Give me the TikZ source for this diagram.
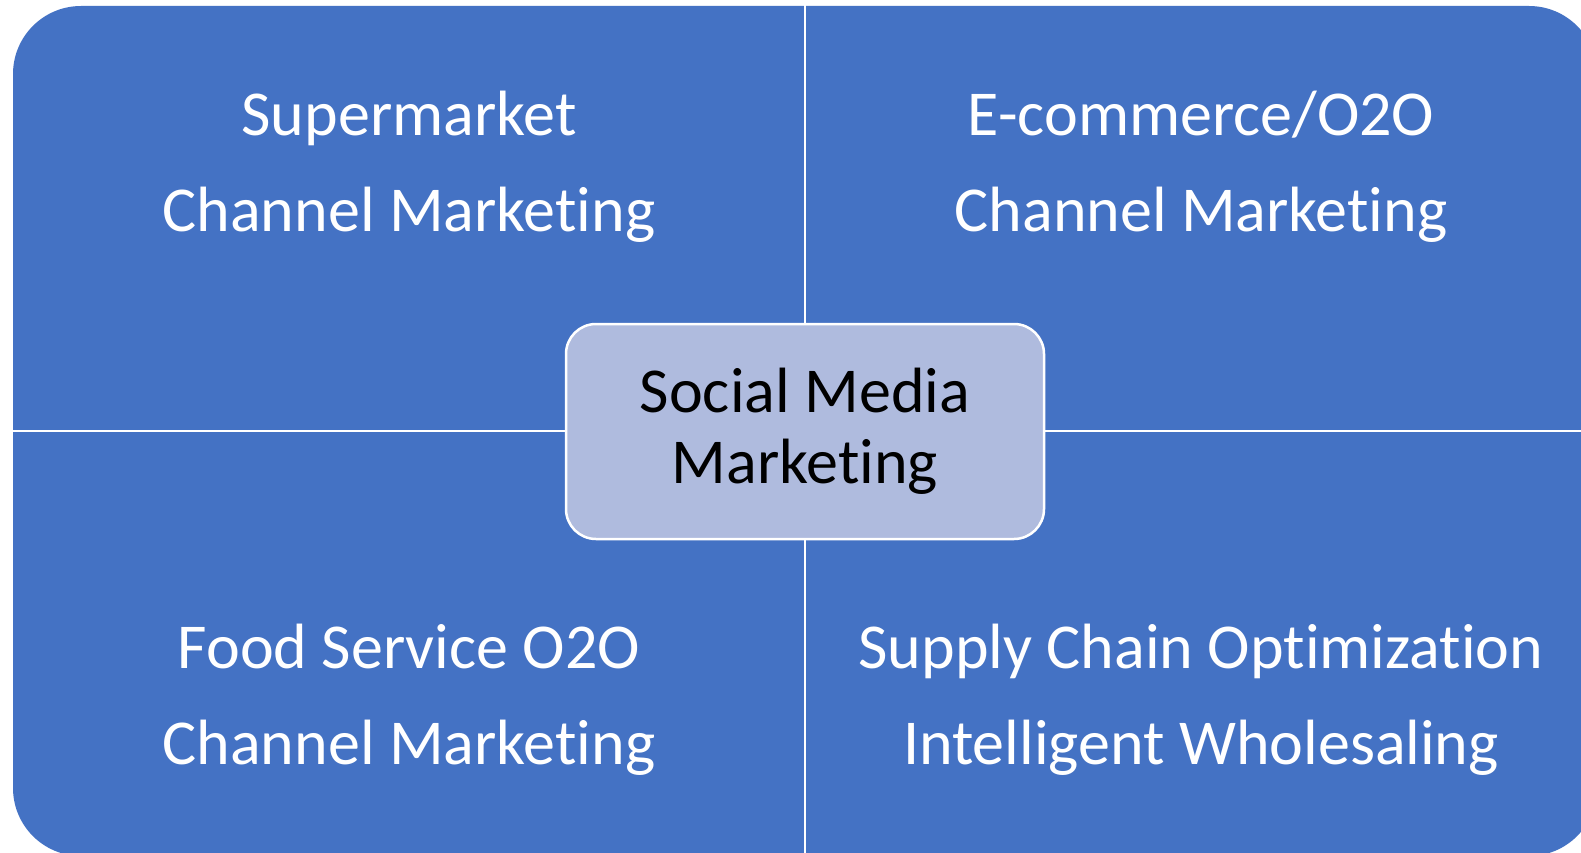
\documentclass[tikz,border=0pt]{standalone}
\usepackage{fontspec}
\setmainfont{Carlito}[Ligatures={NoCommon}]
\definecolor{quadblue}{HTML}{4472C4}
\definecolor{centrefill}{HTML}{AFBBDE}
\tikzset{
  quadtext/.style={text=white, align=center, inner sep=0pt, anchor=base,
    font=\fontsize{64}{96}\selectfont},
  centrebox/.style={draw=white, line width=2.5pt, fill=centrefill,
    rounded corners=30pt, minimum width=478pt, minimum height=215pt,
    align=center, font=\fontsize{64}{71}\selectfont, text=black, inner sep=0pt},
  divider/.style={draw=white, line width=2.8pt}
}
\begin{document}
\begin{tikzpicture}[x=1pt,y=-1pt]
\useasboundingbox (0,0) rectangle (1581,853);
\fill[white] (0,0) rectangle (1581,853);
\begin{scope}
\clip (0,0) rectangle (1581,853);
\fill[quadblue, rounded corners=68pt] (13,6) rectangle (1597,856);
\coordinate (vtop) at (805,0);
\coordinate (vbot) at (805,860);
\coordinate (hleft) at (0,431);
\coordinate (hright) at (1600,431);
\draw[divider] (vtop) -- (vbot);
\draw[divider] (hleft) -- (hright);
\end{scope}
\node[centrebox] (centre) at (805,431.5) {Social Media\\Marketing};
\node[quadtext] (tl) at (409,231) {Supermarket\\Channel Marketing};
\node[quadtext] (tr) at (1201,231) {E-commerce/O2O\\Channel Marketing};
\node[quadtext] (bl) at (409,764) {Food Service O2O\\Channel Marketing};
\node[quadtext] (br) at (1201,764) {Supply Chain Optimization\\Intelligent Wholesaling};
\end{tikzpicture}
\end{document}
